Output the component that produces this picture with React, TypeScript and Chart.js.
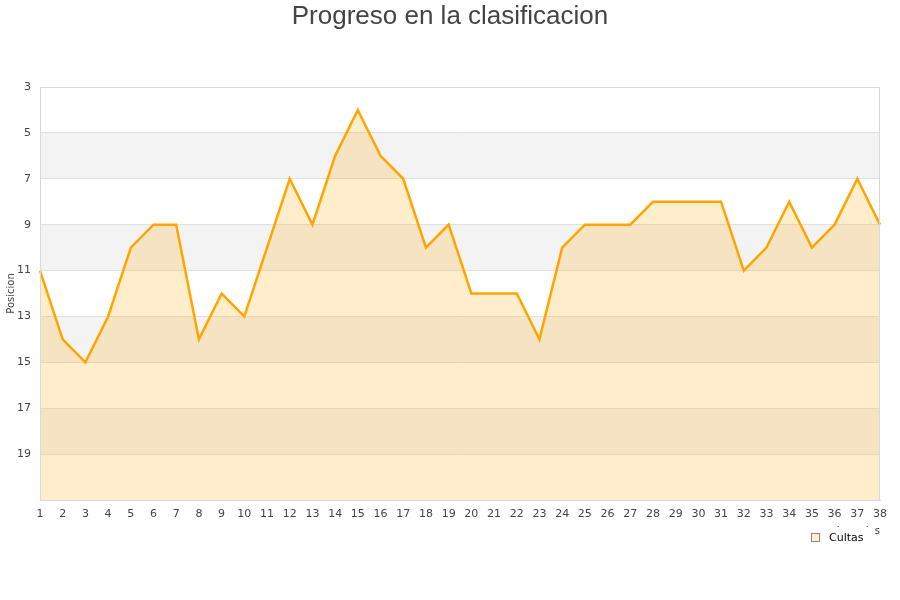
import React, { useEffect, useRef } from "react";
import { Chart, registerables } from "chart.js";

Chart.register(...registerables);

const chartTitle = "Progreso en la clasificacion";
const seriesName = "Cultas";
const yAxisTitle = "Posicion";
const xAxisTitle = "Jornadas";
const jornadas = Array.from({ length: 38 }, (_, i) => String(i + 1));
const posiciones = [
  11, 14, 15, 13, 10, 9, 9, 14, 12, 13,
  10, 7, 9, 6, 4, 6, 7, 10, 9, 12,
  12, 12, 14, 10, 9, 9, 9, 8, 8, 8,
  8, 11, 10, 8, 10, 9, 7, 9,
];
const yMin = 3;
const yMax = 21;
const yStep = 2;

const bandsPlugin = {
  id: "bands",
  beforeDraw(chart: any) {
    const { ctx, chartArea } = chart;
    const y = chart.scales.y;
    ctx.save();
    ctx.fillStyle = "#ffffff";
    ctx.fillRect(0, 0, chart.width, chart.height);
    const ticks = y.ticks;
    for (let i = 0; i < ticks.length - 1; i++) {
      if (i % 2 === 1) {
        const a = y.getPixelForValue(ticks[i].value);
        const b = y.getPixelForValue(ticks[i + 1].value);
        ctx.fillStyle = "#f3f3f3";
        ctx.fillRect(chartArea.left, Math.min(a, b), chartArea.right - chartArea.left, Math.abs(b - a));
      }
    }
    ctx.restore();
  },
};

const decorPlugin = {
  id: "decor",
  afterDraw(chart: any) {
    const { ctx, chartArea } = chart;
    ctx.save();
    // frame
    ctx.strokeStyle = "#d9d9d9";
    ctx.lineWidth = 1;
    ctx.strokeRect(chartArea.left + 0.5, chartArea.top + 0.5, chartArea.right - chartArea.left - 1, chartArea.bottom - chartArea.top);
    // title
    ctx.fillStyle = "#444444";
    ctx.font = "26px 'Liberation Sans', Arial, sans-serif";
    ctx.textAlign = "center";
    ctx.textBaseline = "middle";
    ctx.fillText(chartTitle, chart.width / 2, 17);
    // x axis title (mostly hidden behind legend)
    ctx.font = "10px 'DejaVu Sans', sans-serif";
    ctx.fillStyle = "#333333";
    ctx.textAlign = "right";
    ctx.fillText(xAxisTitle, chartArea.right, chartArea.bottom + 31);
    // legend
    ctx.fillStyle = "#ffffff";
    ctx.fillRect(805, 527, 69, 22);
    const ds = chart.data.datasets[0];
    ctx.fillStyle = ds.backgroundColor;
    ctx.fillRect(811.5, 533.5, 8, 8);
    ctx.strokeStyle = "#888888";
    ctx.strokeRect(811.5, 533.5, 8, 8);
    ctx.fillStyle = "#000000";
    ctx.font = "11px 'DejaVu Sans', sans-serif";
    ctx.textAlign = "left";
    ctx.textBaseline = "middle";
    ctx.fillText(ds.label, 829, 538);
    ctx.restore();
  },
};

export default function App() {
  const ref = useRef<HTMLCanvasElement | null>(null);
  useEffect(() => {
    if (!ref.current) return;
    const chart = new Chart(ref.current, {
      type: "line",
      data: {
        labels: jornadas,
        datasets: [
          {
            label: seriesName,
            data: posiciones,
            borderColor: "#ffa500",
            backgroundColor: "rgba(255,165,0,0.2)",
            borderWidth: 2.5,
            pointRadius: 0,
            tension: 0,
            fill: { value: yMax },
          },
        ],
      },
      options: {
        animation: false,
        responsive: false,
        maintainAspectRatio: false,
        layout: { padding: { top: 87, right: 20, bottom: 0, left: 0 } },
        plugins: {
          legend: { display: false },
          title: { display: false },
          tooltip: { enabled: false },
        },
        scales: {
          x: {
            offset: false,
            grid: { display: false },
            border: { color: "#d9d9d9" },
            ticks: {
              color: "#444444",
              font: { family: "'DejaVu Sans', sans-serif", size: 11 },
              maxRotation: 0,
              autoSkip: false,
              padding: 0,
            },
            afterFit(scale: any) {
              scale.height = 100;
            },
          },
          y: {
            reverse: true,
            min: yMin,
            max: yMax,
            border: { color: "#d9d9d9" },
            grid: { color: "#e0e0e0", drawTicks: false },
            ticks: {
              stepSize: yStep,
              color: "#444444",
              font: { family: "'DejaVu Sans', sans-serif", size: 11 },
              padding: 9,
              callback: (v: any) => (v === yMax ? "" : String(v)),
            },
            title: {
              display: true,
              text: yAxisTitle,
              color: "#444444",
              font: { family: "'DejaVu Sans', sans-serif", size: 10 },
              padding: { top: 5, bottom: 0 },
            },
            afterFit(scale: any) {
              scale.width = 40;
            },
          },
        },
      },
      plugins: [bandsPlugin, decorPlugin],
    } as any);
    return () => chart.destroy();
  }, []);
  return (
    <div style={{ position: "fixed", left: 0, top: 0, width: 900, height: 600 }}>
      <canvas ref={ref} width={900} height={600} style={{ width: 900, height: 600 }} />
    </div>
  );
}
